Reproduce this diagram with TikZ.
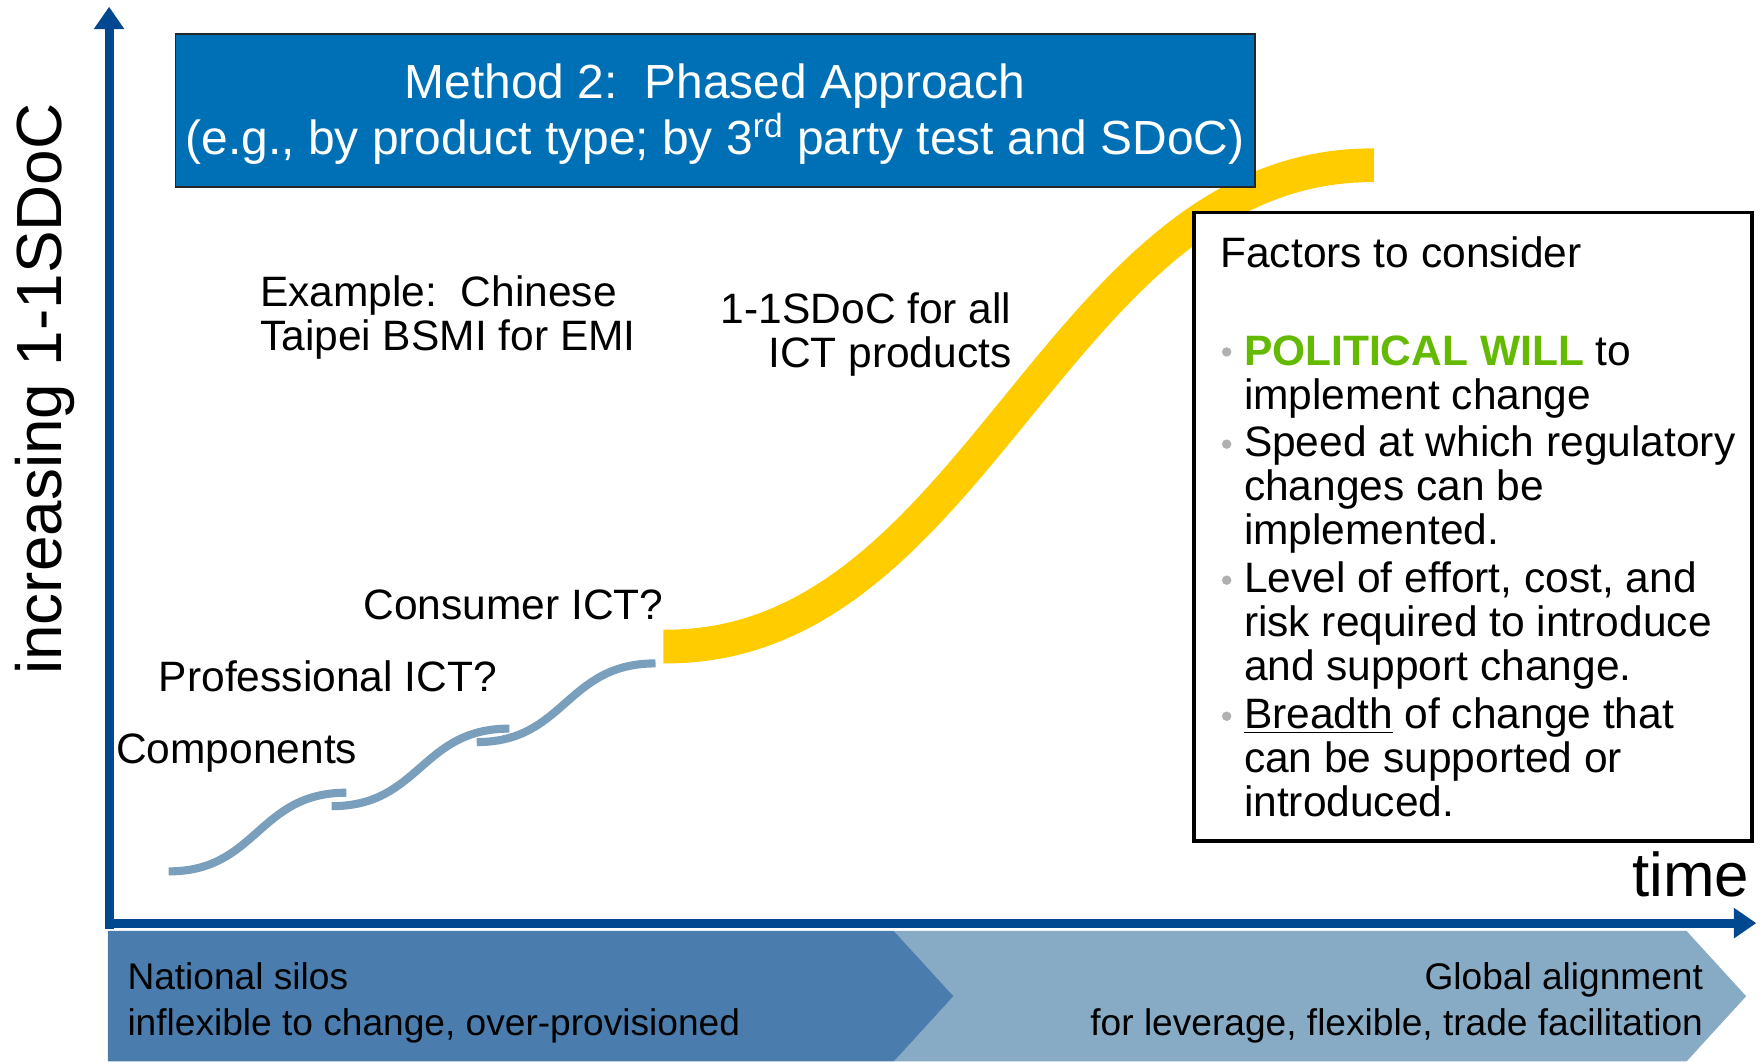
\documentclass[tikz,border=0pt]{standalone}
\usepackage{fontspec}
\setmainfont{Liberation Sans}
\usetikzlibrary{arrows.meta}
\definecolor{axisblue}{RGB}{0,73,144}
\definecolor{titleblue}{RGB}{0,112,182}
\definecolor{banddark}{RGB}{74,125,173}
\definecolor{bandlight}{RGB}{135,170,197}
\definecolor{stepblue}{RGB}{122,159,189}
\definecolor{curveyellow}{RGB}{255,204,0}
\definecolor{pwgreen}{RGB}{100,186,0}
\definecolor{bulletgray}{RGB}{176,176,176}
\tikzset{
  axisline/.style={axisblue, line width=4pt, -{Triangle[length=10pt,width=13pt]}},
  stepline/.style={stepblue, line width=3.6pt},
  txt/.style={inner sep=0pt, font=\fontsize{18.9}{19.5}\selectfont},
  bandtxt/.style={inner sep=0pt, font=\fontsize{16.5}{20.5}\selectfont},
  bul/.style={fill=bulletgray},
}
\begin{document}
\begin{tikzpicture}[x=0.5pt,y=-0.5pt]
\useasboundingbox (0,0) rectangle (1568,944);
% bottom band
\fill[bandlight] (795,828) -- (1500,828) -- (1553,886) -- (1500,944) -- (795,944) -- (848,886) -- cycle;
\fill[banddark] (96,828) -- (795,828) -- (848,886) -- (795,944) -- (96,944) -- cycle;
\node (natl) [bandtxt, anchor=base west, align=left] at (113,921) {National silos\\inflexible to change, over-provisioned};
\node (glob) [bandtxt, anchor=base east, align=right] at (1515,921) {Global alignment\\for leverage, flexible, trade facilitation};
% axes
\coordinate (origin) at (97,821);
\coordinate (ybot) at (97,826);
\coordinate (ytip) at (97,6);
\coordinate (xleft) at (93,821);
\coordinate (xtip) at (1562,821);
\draw[axisline] (ybot) -- (ytip);
\draw[axisline] (xleft) -- (xtip);
\node (ylab) [inner sep=0pt, rotate=90, font=\fontsize{28.4}{30}\selectfont] at (40,346) {increasing 1-1SDoC};
\node (time) [inner sep=0pt, anchor=base east, font=\fontsize{27.5}{30}\selectfont] at (1556,797) {time};
% yellow curve
\coordinate (ystart) at (590,575);
\coordinate (yend) at (1222,147);
\draw[curveyellow, line width=15pt] (ystart) .. controls (870,578) and (940,145) .. (yend);
% title
\draw[fill=titleblue, draw=black!85, line width=0.8pt] (156,30) rectangle (1116,166);
\node (title) [inner sep=0pt, anchor=base, text=white, align=center, font=\fontsize{21.3}{24.5}\selectfont] at (636,137) {Method 2:\ \ Phased Approach\\(e.g., by product type; by 3\textsuperscript{rd} party test and SDoC)};
% steps
\coordinate (s1a) at (150,775); \coordinate (s1b) at (308,705);
\coordinate (s2a) at (295,717); \coordinate (s2b) at (453,648);
\coordinate (s3a) at (424,660); \coordinate (s3b) at (583,590);
\draw[stepline] (s1a) .. controls (229,775) and (229,705) .. (s1b);
\draw[stepline] (s2a) .. controls (374,717) and (374,648) .. (s2b);
\draw[stepline] (s3a) .. controls (503,660) and (503,590) .. (s3b);
% labels
\node (example) [txt, anchor=base west, align=left] at (231,312) {Example:\ \ Chinese\\Taipei BSMI for EMI};
\node (allict) [txt, anchor=base east, align=right] at (900,327) {1-1SDoC for all\\ICT products};
\node (consumer) [txt, anchor=base west] at (323,551) {Consumer ICT?};
\node (prof) [txt, anchor=base west] at (141,615) {Professional ICT?};
\node (comp) [txt, anchor=base west] at (103,679) {Components};
% factors box
\draw[black, line width=1.75pt, fill=white] (1062,189) rectangle (1558,748);
\node (fhead) [txt, anchor=base west] at (1085,238) {Factors to consider};
\fill[bul] (1091,313) circle (4.2);
\fill[bul] (1091,395) circle (4.2);
\fill[bul] (1091,516) circle (4.2);
\fill[bul] (1091,637) circle (4.2);
\node (f1) [txt, anchor=base west, align=left] at (1106,364) {\textcolor{pwgreen}{\bfseries POLITICAL WILL} to\\implement change};
\node (f2) [txt, anchor=base west, align=left] at (1106,484) {Speed at which regulatory\\changes can be\\implemented.};
\node (f3) [txt, anchor=base west, align=left] at (1106,605) {Level of effort, cost, and\\risk required to introduce\\and support change.};
\node (f4) [txt, anchor=base west, align=left] at (1106,726) {\underline{Breadth} of change that\\can be supported or\\introduced.};
\end{tikzpicture}
\end{document}
